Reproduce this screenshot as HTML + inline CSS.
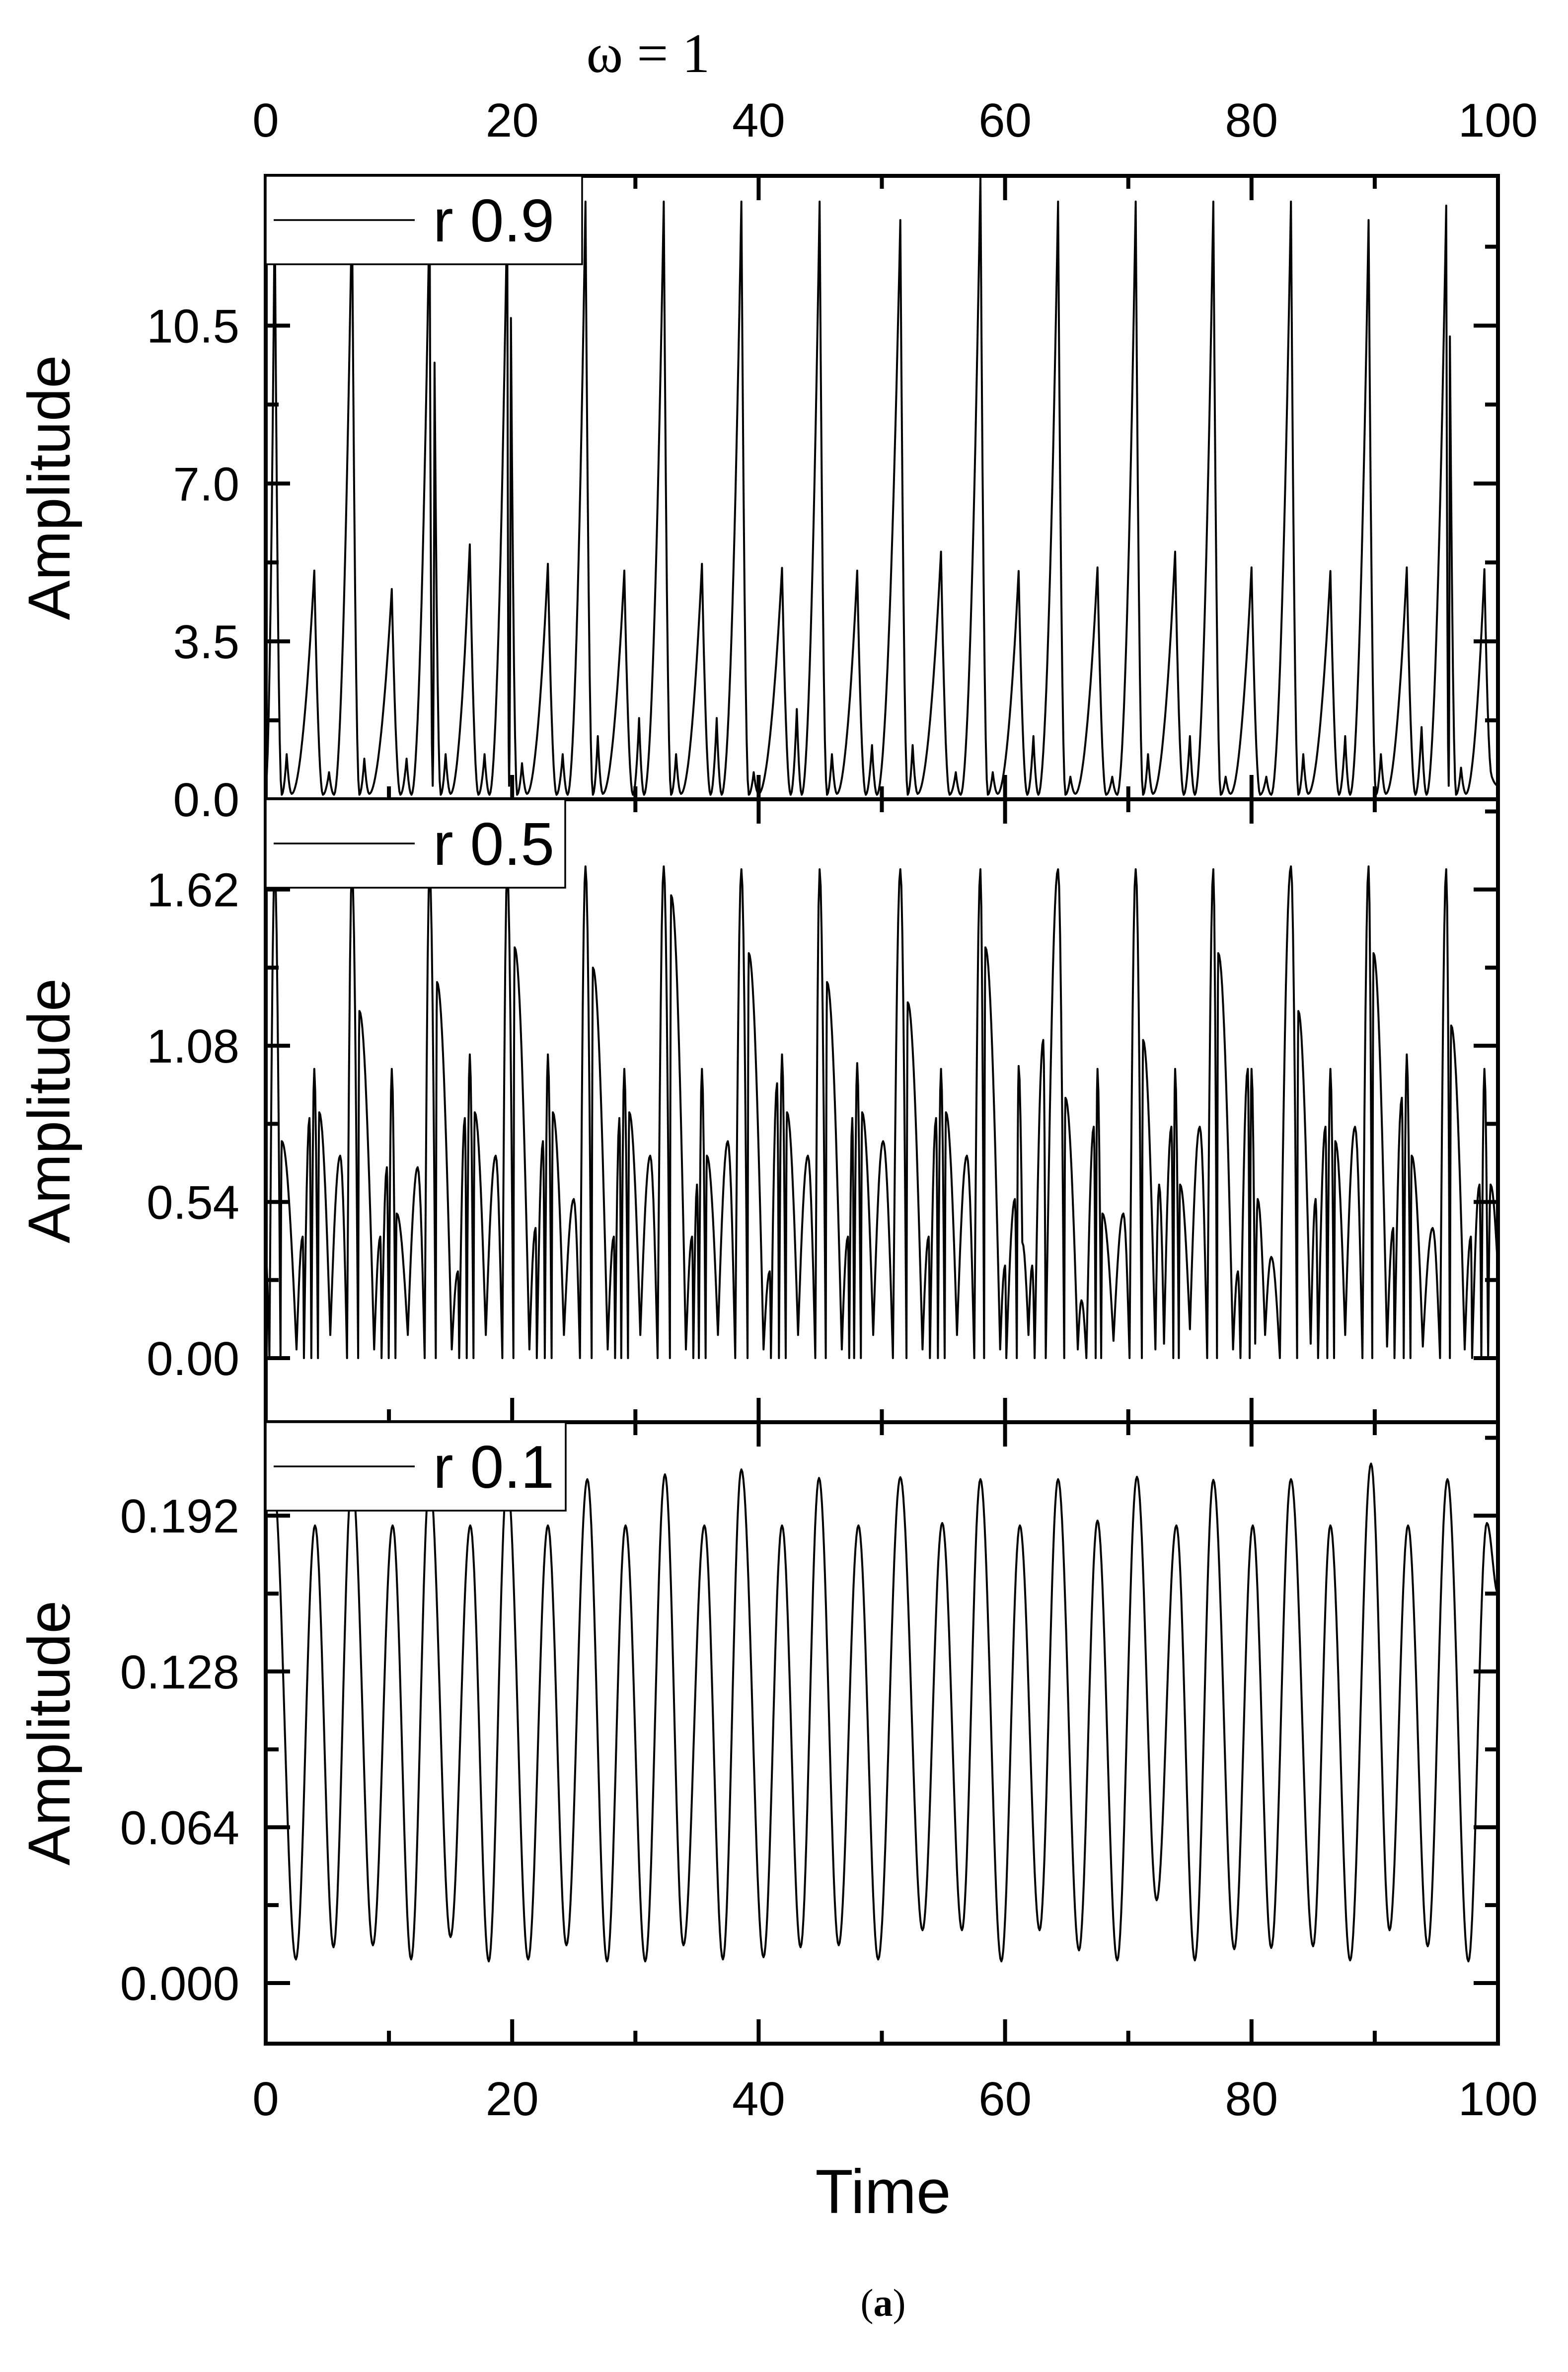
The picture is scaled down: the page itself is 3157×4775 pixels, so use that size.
<!DOCTYPE html>
<html><head><meta charset="utf-8"><style>
html,body{margin:0;padding:0;background:#fff}
svg{display:block}
text{font-family:"Liberation Sans",Arial,sans-serif;fill:#000}
</style></head><body>
<svg id="chart" xmlns="http://www.w3.org/2000/svg" width="3157" height="4775" viewBox="0 0 3157 4775">
<rect x="0" y="0" width="3157" height="4775" fill="#fff"/>
<text x="1305" y="145" font-size="112" text-anchor="middle" style="font-family:'Liberation Serif',serif">ω = 1</text>
<g id="layer"></g>
<text x="1778" y="4455" font-size="125" text-anchor="middle">Time</text>
<text x="1778" y="4662" font-size="78" text-anchor="middle" style="font-family:'Liberation Serif',serif">(<tspan font-weight="bold">a</tspan>)</text>
</svg>
<script>
// x axis
const xTicks = [0, 20, 40, 60, 80, 100];
const xMinor = [10, 30, 50, 70, 90];
// panel 1: r 0.9
const p1Ticks = [0, 3.5, 7.0, 10.5];
const p1TickLabels = ["0.0", "3.5", "7.0", "10.5"];
const p1Minor = [1.75, 5.25, 8.75, 12.25];
const p1Data = [[0,0.3],[0.73,13.2],[1.3,0.1],[1.7,1.0],[2.1,0.12],[3.94,5.07],[4.64,0.1],[5.14,0.6],[5.54,0.1],
[7.0,13.2],[7.6,0.1],[8.0,0.9],[8.4,0.12],[10.23,4.66],[10.93,0.1],[11.43,0.9],[11.83,0.1],
[13.3,13.2],[13.55,0.3],[13.7,9.68],[14.2,0.1],[14.6,1.0],[15.0,0.12],[16.56,5.65],[17.26,0.1],[17.76,1.0],[18.16,0.1],
[19.6,13.2],[19.75,0.3],[19.9,10.67],[20.4,0.1],[20.8,0.8],[21.2,0.12],[22.9,5.22],[23.6,0.1],[24.1,1.0],[24.5,0.1],
[25.95,13.25],[26.55,0.1],[26.95,1.4],[27.35,0.12],[29.1,5.07],[29.8,0.1],[30.3,1.8],[30.7,0.1],
[32.3,13.25],[32.9,0.1],[33.3,1.0],[33.7,0.12],[35.4,5.22],[36.1,0.1],[36.6,1.8],[37.0,0.1],
[38.6,13.25],[39.2,0.1],[39.6,0.6],[40.0,0.12],[41.9,5.13],[42.6,0.1],[43.1,2.0],[43.5,0.1],
[44.95,13.25],[45.55,0.1],[45.95,1.0],[46.35,0.12],[48.0,5.07],[48.7,0.1],[49.2,1.2],[49.6,0.1],
[51.5,12.84],[52.1,0.1],[52.5,1.2],[52.9,0.12],[54.8,5.49],[55.5,0.1],[56.0,0.6],[56.4,0.1],
[58.0,13.79],[58.6,0.1],[59.0,0.6],[59.4,0.12],[61.1,5.06],[61.8,0.1],[62.3,1.4],[62.7,0.1],
[64.3,13.25],[64.9,0.1],[65.3,0.5],[65.7,0.12],[67.5,5.14],[68.2,0.1],[68.7,0.5],[69.1,0.1],
[70.6,13.25],[71.2,0.1],[71.6,1.0],[72.0,0.12],[73.8,5.49],[74.5,0.1],[75.0,1.4],[75.4,0.1],
[76.9,13.25],[77.5,0.1],[77.9,0.5],[78.3,0.12],[80.0,5.14],[80.7,0.1],[81.2,0.5],[81.6,0.1],
[83.2,13.25],[83.8,0.1],[84.2,1.0],[84.6,0.12],[86.4,5.06],[87.1,0.1],[87.6,1.4],[88.0,0.1],
[89.5,12.84],[90.1,0.1],[90.5,1.0],[90.9,0.12],[92.6,5.14],[93.3,0.1],[93.8,1.6],[94.2,0.1],
[95.8,13.16],[96.0,0.3],[96.1,10.26],[96.6,0.1],[97.0,0.7],[97.4,0.12],[98.9,5.1],[99.5,0.5],[100,0.3]];
// panel 2: r 0.5
const p2Ticks = [0, 0.54, 1.08, 1.62];
const p2TickLabels = ["0.00", "0.54", "1.08", "1.62"];
const p2Minor = [0.27, 0.81, 1.35, 1.89];
const p2Data = [[0,0.35],[0.3,0],[0.73,1.69],[1.2,0],[1.3,0.75],[2.5,0.03],[3.0,0.42],[3.1,0],[3.55,0.83],[3.7,0],[3.94,1.0],[4.24,0],[4.34,0.85],[5.24,0.08],[6.04,0.7],[6.6,0],
[7.0,1.69],[7.5,0],[7.6,1.2],[8.8,0.03],[9.3,0.42],[9.4,0],[9.83,0.66],[9.98,0],[10.23,1.0],[10.53,0],[10.63,0.5],[11.53,0.08],[12.33,0.66],[12.9,0],
[13.3,1.69],[13.8,0],[13.9,1.3],[15.1,0.03],[15.6,0.3],[15.7,0],[16.16,0.83],[16.31,0],[16.56,1.05],[16.86,0],[16.96,0.85],[17.86,0.08],[18.66,0.7],[19.2,0],
[19.6,1.69],[20.1,0],[20.2,1.42],[21.4,0.03],[21.9,0.45],[22.0,0],[22.5,0.75],[22.65,0],[22.9,1.05],[23.2,0],[23.3,0.85],[24.2,0.08],[25.0,0.55],[25.5,0],
[25.95,1.70],[26.45,0],[26.55,1.35],[27.75,0.03],[28.25,0.42],[28.35,0],[28.7,0.83],[28.85,0],[29.1,1.0],[29.4,0],[29.5,0.85],[30.4,0.08],[31.2,0.7],[31.8,0],
[32.3,1.70],[32.8,0],[32.9,1.6],[34.1,0.03],[34.6,0.42],[34.7,0],[35.0,0.6],[35.15,0],[35.4,1.0],[35.7,0],[35.8,0.7],[36.7,0.08],[37.5,0.75],[38.1,0],
[38.6,1.69],[39.1,0],[39.2,1.4],[40.4,0.03],[40.9,0.3],[41.0,0],[41.5,0.95],[41.65,0],[41.9,1.05],[42.2,0],[42.3,0.85],[43.2,0.08],[44.0,0.7],[44.6,0],
[44.95,1.69],[45.45,0],[45.55,1.3],[46.75,0.03],[47.25,0.42],[47.35,0],[47.6,0.83],[47.75,0],[48.0,1.02],[48.3,0],[48.4,0.85],[49.3,0.08],[50.1,0.75],[50.9,0],
[51.5,1.69],[52.0,0],[52.1,1.23],[53.3,0.03],[53.8,0.42],[53.9,0],[54.4,0.83],[54.55,0],[54.8,1.0],[55.1,0],[55.2,0.85],[56.1,0.08],[56.9,0.7],[57.5,0],
[58.0,1.69],[58.3,0],[58.4,1.42],[59.6,0.03],[60.0,0.32],[60.1,0],[60.8,0.55],[60.95,0],[61.1,1.01],[61.4,0.4],[61.9,0.08],[62.2,0.32],[62.4,0],[63.1,1.1],[63.3,0],
[64.3,1.69],[64.8,0],[64.9,0.9],[65.9,0.03],[66.2,0.2],[66.6,0],[67.2,0.8],[67.35,0],[67.5,1.0],[67.8,0],[67.9,0.5],[68.8,0.06],[69.6,0.5],[70.1,0],
[70.6,1.69],[71.1,0],[71.2,1.1],[72.2,0.03],[72.5,0.6],[72.9,0.05],[73.5,0.8],[73.65,0],[73.8,1.0],[74.1,0],[74.2,0.6],[75.0,0.1],[75.8,0.8],[76.4,0],
[76.9,1.69],[77.2,0],[77.3,1.4],[78.5,0.03],[78.9,0.3],[79.1,0],[79.7,1.0],[79.85,0],[80.0,1.0],[80.3,0.05],[80.5,0.55],[81.1,0.08],[81.6,0.35],[82.3,0],
[83.2,1.70],[83.7,0],[83.8,1.2],[84.8,0.05],[85.2,0.55],[85.4,0],[86.0,0.8],[86.15,0],[86.4,1.0],[86.7,0],[86.8,0.75],[87.6,0.08],[88.4,0.8],[89.0,0],
[89.5,1.70],[89.8,0],[89.9,1.4],[91.0,0.04],[91.5,0.45],[91.6,0],[92.2,0.9],[92.35,0],[92.6,1.05],[92.9,0],[93.0,0.7],[93.9,0.04],[94.7,0.45],[95.3,0],
[95.8,1.69],[96.1,0],[96.2,1.15],[97.3,0.03],[97.8,0.42],[97.9,0],[98.5,0.6],[98.65,0],[98.9,1.0],[99.2,0],[99.4,0.6],[100,0.3]];
// panel 3: r 0.1
const p3Ticks = [0, 0.064, 0.128, 0.192];
const p3TickLabels = ["0.000", "0.064", "0.128", "0.192"];
const p3Minor = [0.032, 0.096, 0.160, 0.224];
const p3Data = [[0,0.200],[0.6,0.207],[2.45,0.0097],[4.0,0.188],[5.5,0.0147],[7.0,0.207],[8.7,0.0155],[10.3,0.188],[11.8,0.0097],[13.3,0.207],[15.0,0.0189],[16.6,0.188],[18.1,0.0089],[19.6,0.207],[21.3,0.0097],[22.9,0.188],[24.4,0.0155],[26.1,0.207],[27.7,0.0089],[29.2,0.188],[30.8,0.0089],[32.4,0.209],[33.9,0.0155],[35.6,0.188],[37.1,0.0097],[38.6,0.211],[40.4,0.0106],[41.9,0.188],[43.4,0.0147],[44.9,0.2075],[46.5,0.0155],[48.1,0.188],[49.7,0.0097],[51.5,0.2078],[53.3,0.0217],[54.9,0.189],[56.5,0.0217],[58.0,0.207],[59.7,0.0089],[61.2,0.188],[62.8,0.0217],[64.3,0.207],[66.0,0.0134],[67.5,0.190],[69.1,0.0093],[70.7,0.208],[72.3,0.034],[73.9,0.188],[75.4,0.0093],[76.9,0.2067],[78.6,0.0139],[80.1,0.188],[81.6,0.0144],[83.2,0.207],[85.0,0.0151],[86.4,0.188],[88.0,0.0093],[89.7,0.2134],[91.2,0.0217],[92.7,0.188],[94.3,0.0151],[95.9,0.207],[97.6,0.0089],[99.1,0.189],[100,0.16]];

const NS = "http://www.w3.org/2000/svg";
const layer = document.getElementById('layer');
const X0 = 535, X1 = 3016;
function xScale(t){ return X0 + (t/100)*(X1-X0); }
function mk(tag, attrs, parent){ const e=document.createElementNS(NS,tag); for(const k in attrs) e.setAttribute(k,attrs[k]); (parent||layer).appendChild(e); return e; }

const panels = [
  {name:'r-0-9', label:'r 0.9', top:354, bottom:1609, ymin:0, ymax:13.82, ticks:p1Ticks, labels:p1TickLabels, minor:p1Minor, data:p1Data, shape:'cusp', legendW:637},
  {name:'r-0-5', label:'r 0.5', top:1609, bottom:2863, ymin:-0.2215, ymax:1.932, ticks:p2Ticks, labels:p2TickLabels, minor:p2Minor, data:p2Data, shape:'abs', legendW:603},
  {name:'r-0-1', label:'r 0.1', top:2863, bottom:4114, ymin:-0.0249, ymax:0.2304, ticks:p3Ticks, labels:p3TickLabels, minor:p3Minor, data:p3Data, shape:'cos', legendW:604}
];

function shapeFn(kind, s){
  if(kind==='cusp') return Math.pow(s,1.9);
  if(kind==='abs') return Math.sin(Math.PI/2*s);
  return (1-Math.cos(Math.PI*s))/2;
}

panels.forEach((p, idx) => {
  const yScale = v => p.bottom - (v - p.ymin)/(p.ymax - p.ymin)*(p.bottom - p.top);
  const g = mk('g', {});
  
  
  let d = '';
  for(let i=0;i<p.data.length-1;i++){
    const a=p.data[i], b=p.data[i+1];
    const n = Math.max(4, Math.round((xScale(b[0])-xScale(a[0]))/2));
    for(let k=(i===0?0:1);k<=n;k++){
      const f=k/n, t=a[0]+(b[0]-a[0])*f;
      let v;
      if(b[1]>=a[1]){ v = a[1] + (b[1]-a[1])*shapeFn(p.shape,f); }
      else { v = b[1] + (a[1]-b[1])*shapeFn(p.shape,1-f); }
      d += (d?'L':'M') + xScale(t).toFixed(1) + ',' + yScale(v).toFixed(1);
    }
  }
  const clip = mk('clipPath', {id:'clip'+idx}, g);
  mk('rect', {x:X0, y:p.top, width:X1-X0, height:p.bottom-p.top}, clip);
  const line = mk('path', {d:d, fill:'none', stroke:'#000', 'stroke-width':4, 'stroke-linejoin':'round', 'clip-path':'url(#clip'+idx+')'}, g);
  
  
  const frame = mk('rect', {x:X0, y:p.top, width:X1-X0, height:p.bottom-p.top, fill:'none', stroke:'#000', 'stroke-width':8}, g);
  
  
  xTicks.forEach(t => {
    const x=xScale(t);
    const tb = mk('line', {x1:x, x2:x, y1:p.bottom, y2:p.bottom-49, stroke:'#000','stroke-width':8}, g);
    
    
    const tt = mk('line', {x1:x, x2:x, y1:p.top, y2:p.top+49, stroke:'#000','stroke-width':8}, g);
    
    
  });
  xMinor.forEach(t => {
    const x=xScale(t);
    const tb = mk('line', {x1:x, x2:x, y1:p.bottom, y2:p.bottom-26, stroke:'#000','stroke-width':8}, g);
    
    
    const tt = mk('line', {x1:x, x2:x, y1:p.top, y2:p.top+26, stroke:'#000','stroke-width':8}, g);
    
    
  });
  p.ticks.forEach((v,i) => {
    const y=yScale(v);
    const tl = mk('line', {x1:X0, x2:X0+49, y1:y, y2:y, stroke:'#000','stroke-width':8}, g);
    
    
    const tr = mk('line', {x1:X1, x2:X1-49, y1:y, y2:y, stroke:'#000','stroke-width':8}, g);
    
    
    const lab = mk('text', {x:482, y:y+34, 'font-size':96, 'text-anchor':'end'}, g);
    lab.textContent = p.labels[i];
    
    
  });
  p.minor.forEach(v => {
    if(v>p.ymax) return;
    const y=yScale(v);
    const tl = mk('line', {x1:X0, x2:X0+26, y1:y, y2:y, stroke:'#000','stroke-width':8}, g);
    
    
    const tr = mk('line', {x1:X1, x2:X1-26, y1:y, y2:y, stroke:'#000','stroke-width':8}, g);
    
    
  });
  const cy=(p.top+p.bottom)/2;
  const yt = mk('text', {x:0, y:0, 'font-size':120, 'text-anchor':'middle', transform:'translate(140,'+cy+') rotate(-90)'}, g);
  yt.textContent='Amplitude';
  
  
  const lg = mk('g', {}, g);
  
  
  mk('rect', {x:X0, y:p.top, width:p.legendW, height:178, fill:'#fff', stroke:'#000', 'stroke-width':3.5}, lg);
  mk('line', {x1:551, x2:835, y1:p.top+89, y2:p.top+89, stroke:'#000', 'stroke-width':3.5}, lg);
  const lt = mk('text', {x:872, y:p.top+132, 'font-size':122}, lg);
  lt.textContent = p.label;
  
  
});

xTicks.forEach(t => {
  const a = mk('text', {x:xScale(t), y:275, 'font-size':96, 'text-anchor':'middle'});
  a.textContent = String(t);
  
  
  const b = mk('text', {x:xScale(t), y:4258, 'font-size':96, 'text-anchor':'middle'});
  b.textContent = String(t);
  
  
});
</script>
</body></html>
